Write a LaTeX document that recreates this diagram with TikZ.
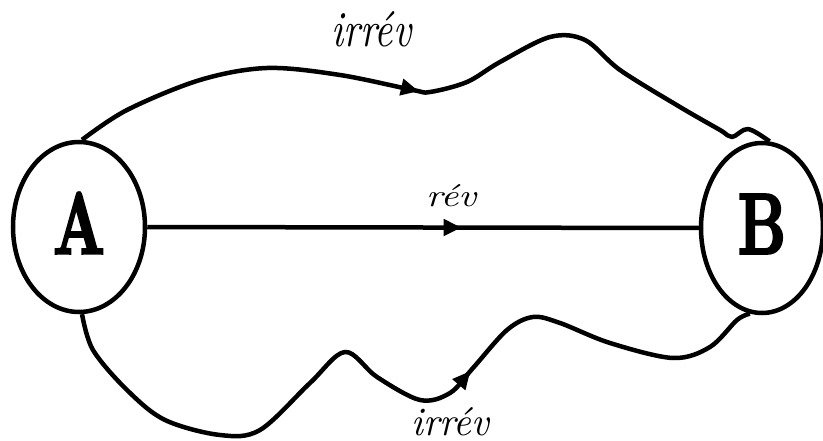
\documentclass[tikz,border=0pt]{standalone}
\usepackage{fontspec}
\newfontfamily\heavy{Latin Modern Roman}[BoldFeatures={FakeBold=3}]
\usetikzlibrary{shapes.geometric,arrows.meta,decorations.markings}
\tikzset{
  state/.style={draw,ellipse,line width=4.5pt,inner sep=0pt,minimum width=#1,minimum height=170pt,text depth=8pt},
  conn/.style={line width=4.5pt,line join=round},
  midarrow/.style={postaction={decorate},decoration={markings,mark=at position #1 with {\arrow{Triangle[length=18pt,width=16pt]}}}},
  lbl/.style={inner sep=0pt,anchor=base west},
}
\newcommand{\bigletter}[3]{\resizebox{#2}{#3}{\heavy\bfseries #1}}
\newcommand{\lab}[3]{\resizebox{#2}{#3}{\itshape #1}}
\begin{document}
\begin{tikzpicture}[x=1pt,y=-1pt]
\useasboundingbox (0,0) rectangle (823,441);
\node[state=132pt,text height=61pt] (A) at (79,227) {\bigletter{A}{52pt}{61pt}};
\node[state=122pt,text height=59pt] (B) at (762,228) {\bigletter{B}{48pt}{59pt}};
% reversible path
\draw[conn,midarrow=0.57] (A.east) -- (B.west);
% upper irreversible path
\draw[conn,midarrow=0.47] plot[smooth,tension=0.55] coordinates {
  (A.88) (127,110) (200,80) (267,68) (340,75) (413,90) (430,92) (467,82)
  (500,62) (550,37) (585,40) (620,70) (680,107) (720,130) (732,137)
  (748,129) (B.85)};
% lower irreversible path
\draw[conn,midarrow=0.61] plot[smooth,tension=0.55] coordinates {
  (A.272) (93,350) (127,390) (165,420) (220,435) (260,430) (310,383)
  (345,352) (377,377) (420,400) (450,393) (473,368) (507,330) (533,317)
  (560,323) (610,343) (673,358) (710,347) (737,320) (B.262)};
% labels
\node[lbl] (l1) at (331,47) {\lab{irrév}{80pt}{35pt}};
\node[lbl] (l2) at (426,207) {\lab{rév}{50pt}{22pt}};
\node[lbl] (l3) at (411,435) {\lab{irrév}{78pt}{28pt}};
\end{tikzpicture}
\end{document}
